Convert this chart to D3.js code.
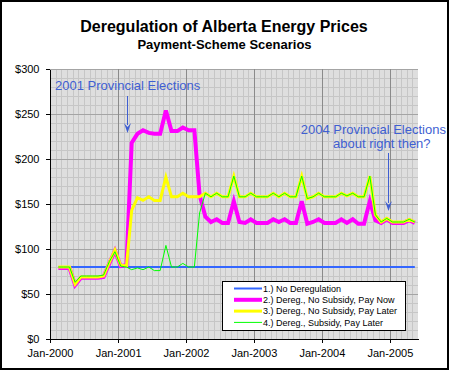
<!DOCTYPE html>
<html>
<head>
<meta charset="utf-8">
<script src="https://cdn.jsdelivr.net/npm/d3@7"></script>
<style>
body { margin: 0; background: #fff; }
text { font-family: Arial, "Liberation Sans", sans-serif; }
</style>
</head>
<body>
<div id="chart"></div>
<script>
// monthly prices, Jan-2000 .. May-2005 ($ per month)
var firstMonth = new Date(2000, 0, 15);
var lastMonth = new Date(2005, 4, 15);

var noDereg = [null, null,
    80, 80, 80, 80, 80, 80, 80, 80, 80, 80, 80,
    80, 80, 80, 80, 80, 80, 80, 80, 80, 80, 80, 80,
    80, 80, 80, 80, 80, 80, 80, 80, 80, 80, 80, 80,
    80, 80, 80, 80, 80, 80, 80, 80, 80, 80, 80, 80,
    80, 80, 80, 80, 80, 80, 80, 80, 80, 80, 80, 80,
    80, 80, 80, 80];

var payNow = [79, 79, 79, 60, 68, 68, 68, 68, 69, 84, 98, 81, 82,
    218, 228, 232, 229, 228, 228, 254, 231, 231, 235, 232, 232,
    160, 136, 130, 133, 129, 129, 153, 130, 129, 133, 129, 129,
    129, 133, 130, 133, 129, 129, 153, 128, 130, 133, 129, 129,
    129, 133, 129, 133, 128, 128, 153, 132, 129, 133, 129, 129,
    129, 132, 129, 133];

var payLater = [80, 80, 80, 61, 69, 69, 69, 69, 70, 85, 99, 82, 81,
    143, 157, 154, 158, 154, 154, 180, 158, 158, 162, 158, 158,
    158, 162, 158, 162, 158, 158, 181, 158, 158, 162, 158, 158,
    158, 162, 158, 162, 158, 158, 181, 156, 158, 162, 158, 158,
    158, 162, 159, 162, 158, 158, 181, 138, 130, 134, 130, 130,
    130, 133, 130, 134];

var subsidyLater = [80, 80, 80, 63, 70, 70, 70, 70, 71, 86, 97, 81, 80,
    77, 79, 77, 80, 76, 76, 104, 80, 80, 84, 80, 80,
    140, 162, 158, 162, 158, 158, 181, 158, 158, 162, 158, 158,
    158, 162, 158, 162, 158, 158, 181, 156, 158, 162, 158, 158,
    158, 162, 159, 162, 158, 158, 181, 138, 130, 134, 130, 130,
    130, 133, 130, 134];

var seriesNames = ["1.) No Deregulation", "2.) Dereg., No Subsidy, Pay Now",
    "3.) Dereg., No Subsidy, Pay Later", "4.) Dereg., Subsidy, Pay Later"];
var yTicks = [0, 50, 100, 150, 200, 250, 300];
var xTickYears = [2000, 2001, 2002, 2003, 2004, 2005];

var colors = ["#3366ff", "#ff00ff", "#ffff00", "#00ff00"];
var widths = [2, 4, 3, 1];

var W = 449, H = 370;
var pLeft = 50, pRight = 418, pTop = 69, pBottom = 339;

var months = d3.timeMonth.range(firstMonth, d3.timeDay.offset(lastMonth, 1))
    .map(function(d) { return new Date(d.getFullYear(), d.getMonth(), 15); });

var x = d3.scaleTime()
    .domain([new Date(2000, 0, 1), new Date(2005, 5, 1)])
    .range([pLeft, pRight]);
var y = d3.scaleLinear().domain([0, 300]).range([pBottom, pTop]);

var svg = d3.select("#chart").append("svg")
    .attr("width", W).attr("height", H);

svg.append("rect")
    .attr("x", 1).attr("y", 1).attr("width", W - 2).attr("height", H - 2)
    .attr("fill", "#fff").attr("stroke", "#000").attr("stroke-width", 2);

// titles
svg.append("text").attr("x", 224).attr("y", 31.5)
    .attr("text-anchor", "middle").attr("font-size", 16).attr("font-weight", "bold")
    .text("Deregulation of Alberta Energy Prices");
svg.append("text").attr("x", 224.5).attr("y", 49.3)
    .attr("text-anchor", "middle").attr("font-size", 13).attr("font-weight", "bold")
    .text("Payment-Scheme Scenarios");

// plot area
svg.append("rect")
    .attr("x", pLeft).attr("y", pTop).attr("width", pRight - pLeft).attr("height", pBottom - pTop)
    .attr("fill", "#dedede");

var grid = svg.append("g").attr("shape-rendering", "crispEdges");

grid.selectAll(".hminor")
    .data(d3.range(10, 300, 10).filter(function(v) { return v % 50 != 0; }))
    .enter().append("line")
    .attr("x1", pLeft).attr("x2", pRight)
    .attr("y1", function(d) { return Math.round(y(d)) + 0.5; })
    .attr("y2", function(d) { return Math.round(y(d)) + 0.5; })
    .attr("stroke", "#c6c6c6");

grid.selectAll(".vminor")
    .data(d3.timeMonth.range(new Date(2000, 1, 1), new Date(2005, 5, 1))
        .filter(function(d) { return d.getMonth() != 0; }))
    .enter().append("line")
    .attr("y1", pTop).attr("y2", pBottom)
    .attr("x1", function(d) { return Math.round(x(d)) + 0.5; })
    .attr("x2", function(d) { return Math.round(x(d)) + 0.5; })
    .attr("stroke", "#c6c6c6");

grid.selectAll(".hmajor")
    .data(yTicks.slice(1))
    .enter().append("line")
    .attr("x1", pLeft).attr("x2", pRight)
    .attr("y1", function(d) { return Math.round(y(d)) + 0.5; })
    .attr("y2", function(d) { return Math.round(y(d)) + 0.5; })
    .attr("stroke", "#a4a4a4");

grid.selectAll(".vmajor")
    .data(xTickYears.slice(1))
    .enter().append("line")
    .attr("y1", pTop).attr("y2", pBottom)
    .attr("x1", function(d) { return Math.round(x(new Date(d, 0, 1))) + 0.5; })
    .attr("x2", function(d) { return Math.round(x(new Date(d, 0, 1))) + 0.5; })
    .attr("stroke", "#8a8a8a");

// axes
var yAxis = d3.axisLeft(y)
    .tickValues(yTicks)
    .tickSize(4).tickSizeOuter(0).tickPadding(6)
    .tickFormat(function(d) { return "$" + d; });
svg.append("g")
    .attr("transform", "translate(" + (pLeft - 0.5) + ",0)")
    .attr("shape-rendering", "crispEdges")
    .call(yAxis)
    .call(function(g) {
        g.selectAll("text").attr("font-size", 11).attr("font-family", "Arial, 'Liberation Sans', sans-serif").attr("fill", "#000");
        g.selectAll("line, path").attr("stroke", "#000");
    });

var xAxis = d3.axisBottom(x)
    .tickValues(xTickYears.map(function(yr) { return new Date(yr, 0, 1); }))
    .tickSize(4).tickSizeOuter(0).tickPadding(7)
    .tickFormat(d3.timeFormat("Jan-%Y"));
svg.append("g")
    .attr("transform", "translate(0," + (pBottom - 0.5) + ")")
    .attr("shape-rendering", "crispEdges")
    .call(xAxis)
    .call(function(g) {
        g.selectAll("text").attr("font-size", 11).attr("font-family", "Arial, 'Liberation Sans', sans-serif").attr("fill", "#000");
        g.selectAll("line, path").attr("stroke", "#000");
    });

// series
var allSeries = [noDereg, payNow, payLater, subsidyLater];
var line = d3.line()
    .defined(function(d) { return d != null; })
    .x(function(d, i) { return x(months[i]); })
    .y(function(d) { return y(d); });

svg.append("g").selectAll("path")
    .data(allSeries)
    .enter().append("path")
    .attr("d", line)
    .attr("fill", "none")
    .attr("stroke", function(d, i) { return colors[i]; })
    .attr("stroke-width", function(d, i) { return widths[i]; })
    .attr("stroke-linejoin", "miter");

// annotations
var noteColor = "#3f5fd2";
svg.append("text").attr("x", 55).attr("y", 90)
    .attr("font-size", 13).attr("fill", noteColor)
    .text("2001 Provincial Elections");
svg.append("text").attr("x", 300.7).attr("y", 134)
    .attr("font-size", 13).attr("fill", noteColor)
    .text("2004 Provincial Elections");
svg.append("text").attr("x", 333).attr("y", 148)
    .attr("font-size", 13).attr("fill", noteColor)
    .text("about right then?");

function arrow(ax, y0, y1) {
    svg.append("line")
        .attr("x1", ax).attr("x2", ax).attr("y1", y0).attr("y2", y1 - 8)
        .attr("stroke", noteColor).attr("stroke-width", 1);
    svg.append("path")
        .attr("d", "M" + (ax - 3.5) + "," + (y1 - 10) + "L" + ax + "," + (y1 - 6) +
            "L" + (ax + 3.5) + "," + (y1 - 10) + "L" + ax + "," + y1 + "Z")
        .attr("fill", noteColor);
}
arrow(127.5, 96, 133);
arrow(388.5, 153, 211);

// legend
var legend = svg.append("g").attr("transform", "translate(222.5,281.5)");
legend.append("rect")
    .attr("width", 183).attr("height", 49)
    .attr("fill", "#fff").attr("stroke", "#000");
var rows = legend.selectAll(".row")
    .data(seriesNames)
    .enter().append("g")
    .attr("transform", function(d, i) { return "translate(0," + (7 + i * 11.3) + ")"; });
rows.append("line")
    .attr("x1", 11.5).attr("x2", 39.5)
    .attr("stroke", function(d, i) { return colors[i]; })
    .attr("stroke-width", function(d, i) { return widths[i]; });
rows.append("text")
    .attr("x", 40.5).attr("y", 3.3)
    .attr("font-size", 9)
    .text(function(d) { return d; });
</script>
</body>
</html>
